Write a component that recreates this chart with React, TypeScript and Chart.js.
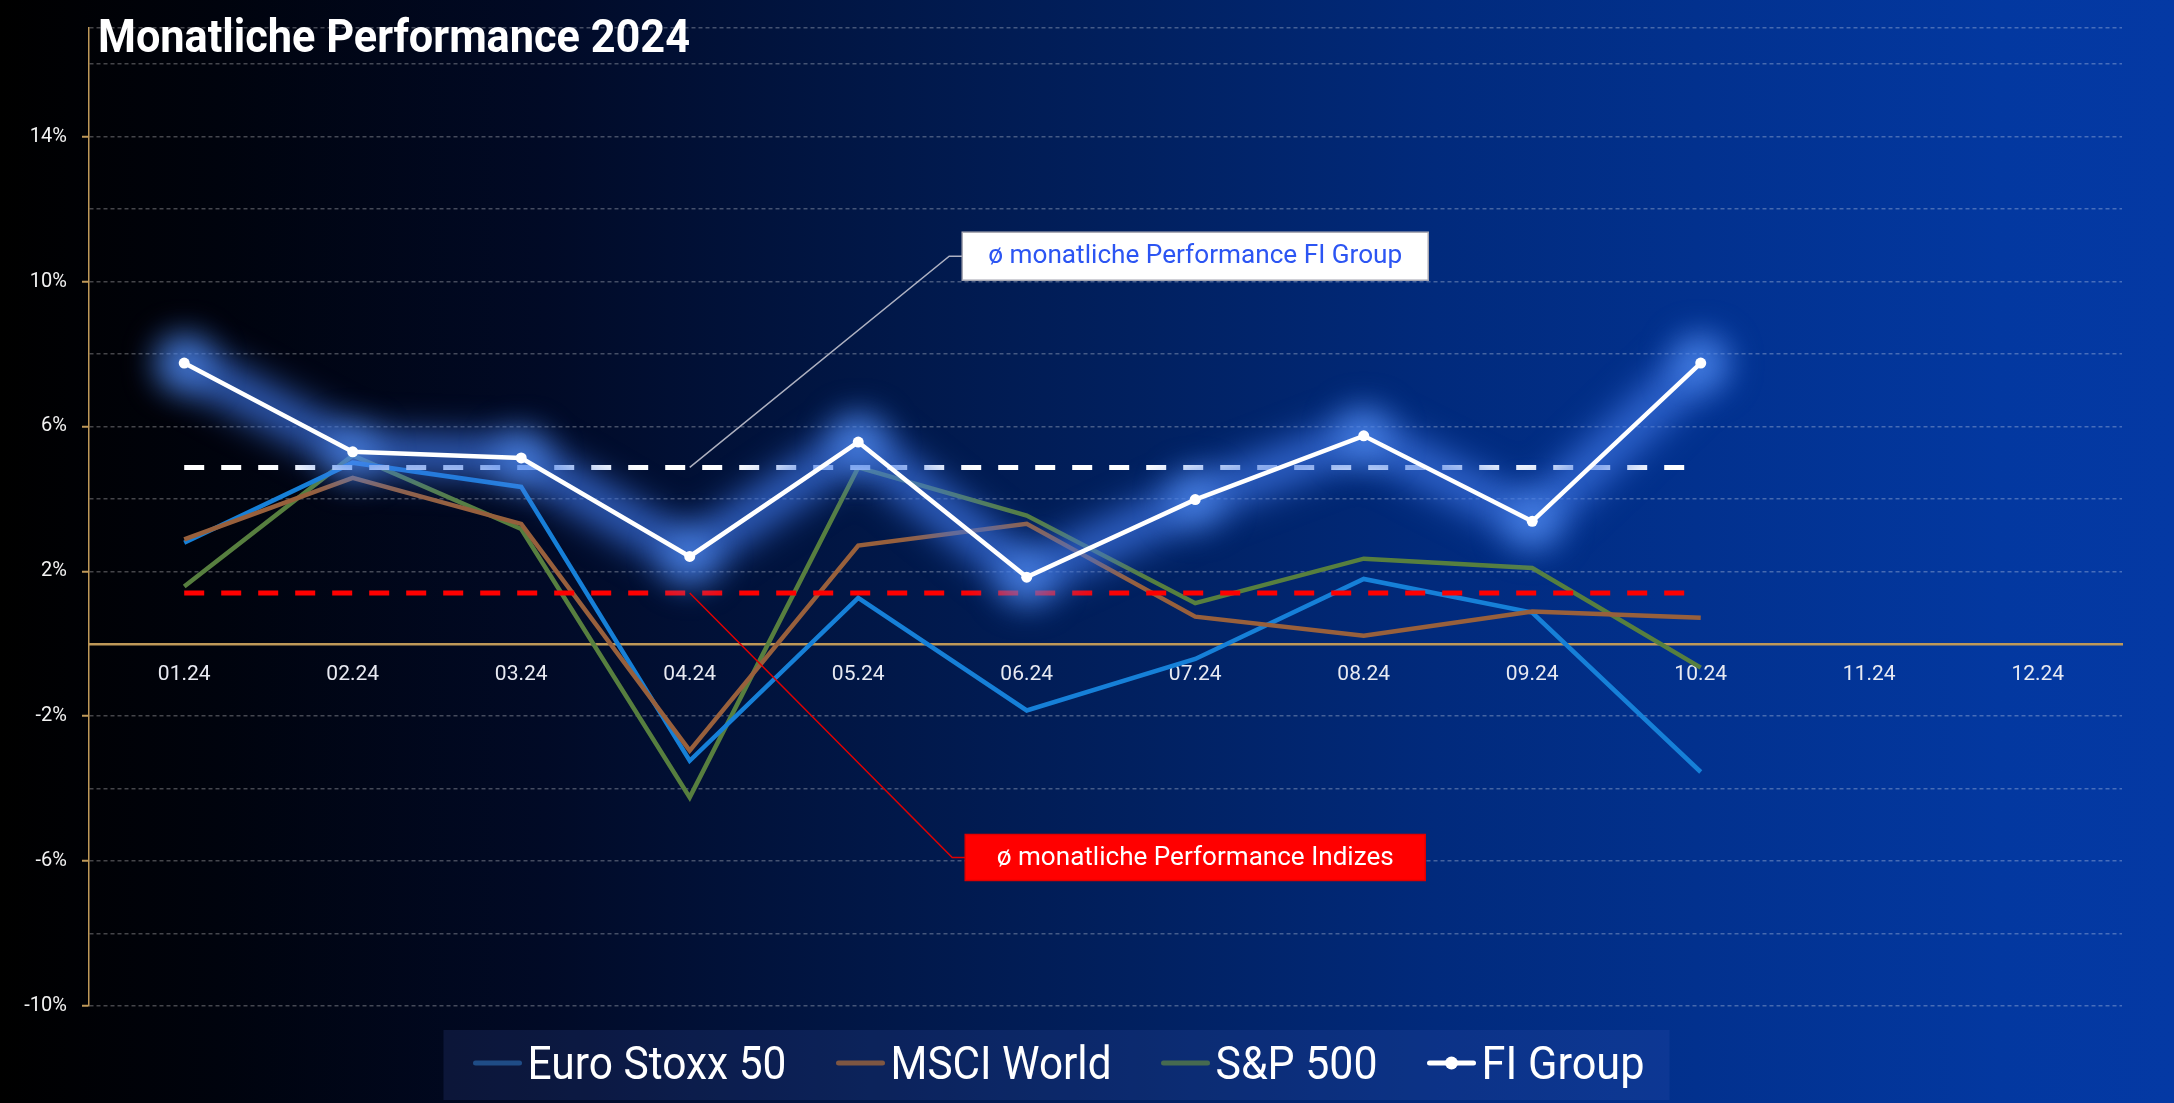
import React, { useEffect, useRef } from 'react';
import { Chart, registerables } from 'chart.js';

Chart.register(...registerables);

// ---------- data ----------
const months = ['01.24', '02.24', '03.24', '04.24', '05.24', '06.24', '07.24', '08.24', '09.24', '10.24', '11.24', '12.24'];
const euroStoxx50 = [2.79, 5.0, 4.33, -3.23, 1.27, -1.84, -0.42, 1.79, 0.86, -3.54];
const msciWorld = [2.88, 4.58, 3.31, -2.95, 2.71, 3.31, 0.75, 0.22, 0.89, 0.72];
const sp500 = [1.58, 5.2, 3.17, -4.24, 4.87, 3.54, 1.12, 2.35, 2.09, -0.66];
const fiGroup = [7.75, 5.3, 5.13, 2.41, 5.57, 1.84, 3.98, 5.74, 3.38, 7.75];
const fiGroupAverage = [4.87, 4.87, 4.87, 4.87, 4.87, 4.87, 4.87, 4.87, 4.87, 4.87];
const indicesAverage = [1.4, 1.4, 1.4, 1.4, 1.4, 1.4, 1.4, 1.4, 1.4, 1.4];
const yLabeledTicks = [14, 10, 6, 2, -2, -6, -10];
const seriesNames = ['Euro Stoxx 50', 'MSCI World', 'S&P 500', 'FI Group'];
const titleText = 'Monatliche Performance 2024';
const fiNoteText = 'ø monatliche Performance FI Group';
const indexNoteText = 'ø monatliche Performance Indizes';
// annotation anchors (category index / value)
const noteAnchorIndex = 3;
const noteBoxIndex = 6;
const fiNoteValue = 10.7;
const indexNoteValue = -5.9;

// ---------- styles ----------
const GOLD = 'rgb(190,152,88)';
const BLUE = '#1680d8';
const BROWN = '#98603c';
const GREEN = '#577f3f';
const LEGEND_COLORS = ['#1f4c86', '#7e5642', '#466a50', '#ffffff'];
const LEGEND_TEXT_WIDTHS = [259, 221, 162, 163];
const FONT = 'Roboto';

const toPoints = (arr: number[]) => arr.map((y, x) => ({ x, y }));

const glowPlugin = {
  id: 'glowPlugin',
  beforeDatasetDraw(chart: any, args: any) {
    const ds = chart.data.datasets[args.index];
    if (ds.glow) {
      chart.ctx.save();
      chart.ctx.filter = `blur(${ds.glow}px)`;
    }
  },
  afterDatasetDraw(chart: any, args: any) {
    const ds = chart.data.datasets[args.index];
    if (ds.glow) chart.ctx.restore();
  },
};

function fitText(ctx: CanvasRenderingContext2D, text: string, x: number, y: number, target: number) {
  const w = ctx.measureText(text).width;
  const s = target / w;
  ctx.save();
  ctx.translate(x, y);
  ctx.scale(s, 1);
  ctx.textAlign = 'left';
  ctx.fillText(text, 0, 0);
  ctx.restore();
}

const decorPlugin = {
  id: 'decorPlugin',
  afterDraw(chart: any) {
    const ctx: CanvasRenderingContext2D = chart.ctx;
    const xs = chart.scales.x;
    const ys = chart.scales.y;

    // title
    ctx.save();
    ctx.fillStyle = '#ffffff';
    ctx.font = `bold 47px ${FONT}`;
    ctx.textBaseline = 'alphabetic';
    fitText(ctx, titleText, 98, 52, 592);
    ctx.restore();

    // notes
    const notes = [
      { text: fiNoteText, value: fiNoteValue, anchor: fiGroupAverage[noteAnchorIndex], bg: '#ffffff', fg: '#2c55f3', line: 'rgba(205,205,215,0.85)', border: 'rgba(170,170,180,1)', tw: 414, bw: 466, bh: 48 },
      { text: indexNoteText, value: indexNoteValue, anchor: indicesAverage[noteAnchorIndex], bg: '#ff0000', fg: '#ffffff', line: '#e00000', border: '#e00000', tw: 397, bw: 460, bh: 46 },
    ];
    notes.forEach((n) => {
      const cx = xs.getPixelForValue(noteBoxIndex);
      const cy = ys.getPixelForValue(n.value);
      const ax = xs.getPixelForValue(noteAnchorIndex);
      const ay = ys.getPixelForValue(n.anchor);
      const left = cx - n.bw / 2;
      ctx.save();
      ctx.strokeStyle = n.line;
      ctx.lineWidth = 1.5;
      ctx.beginPath();
      ctx.moveTo(ax, ay);
      ctx.lineTo(left - 13, cy);
      ctx.lineTo(left, cy);
      ctx.stroke();
      ctx.fillStyle = n.bg;
      ctx.fillRect(left, cy - n.bh / 2, n.bw, n.bh);
      ctx.strokeStyle = n.border;
      ctx.lineWidth = 1.5;
      ctx.strokeRect(left, cy - n.bh / 2, n.bw, n.bh);
      ctx.fillStyle = n.fg;
      ctx.font = `25px ${FONT}`;
      ctx.textBaseline = 'middle';
      fitText(ctx, n.text, cx - n.tw / 2, cy + 1, n.tw);
      ctx.restore();
    });

    // legend
    ctx.save();
    ctx.font = `46px ${FONT}`;
    const widths = LEGEND_TEXT_WIDTHS;
    const sw = 48;
    const gapText = 6;
    const gapItem = 50;
    const total = widths.reduce((a, w) => a + sw + gapText + w, 0) + gapItem * (seriesNames.length - 1);
    const centerX = 1059;
    const cyL = 1063;
    let x = centerX - total / 2;
    ctx.fillStyle = 'rgba(70,95,190,0.17)';
    ctx.fillRect(x - 30, 1030, total + 55, 70);
    seriesNames.forEach((name, i) => {
      ctx.strokeStyle = LEGEND_COLORS[i];
      ctx.lineWidth = 5;
      ctx.lineCap = 'round';
      ctx.beginPath();
      ctx.moveTo(x + 2, cyL);
      ctx.lineTo(x + sw - 2, cyL);
      ctx.stroke();
      if (i === 3) {
        ctx.fillStyle = '#ffffff';
        ctx.beginPath();
        ctx.arc(x + sw / 2, cyL, 6.5, 0, Math.PI * 2);
        ctx.fill();
      }
      ctx.fillStyle = '#ffffff';
      ctx.textBaseline = 'alphabetic';
      fitText(ctx, name, x + sw + gapText, cyL + 16, widths[i]);
      x += sw + gapText + widths[i] + gapItem;
    });
    ctx.restore();
  },
};

export default function App() {
  const canvasRef = useRef<HTMLCanvasElement | null>(null);

  useEffect(() => {
    document.body.style.margin = '0';
    const canvas = canvasRef.current;
    if (!canvas) return;
    const chart = new Chart(canvas, {
      type: 'line',
      data: {
        datasets: [
          { label: seriesNames[0], data: toPoints(euroStoxx50), borderColor: BLUE, backgroundColor: BLUE, borderWidth: 4.5, pointRadius: 0, tension: 0, order: 5 } as any,
          { label: seriesNames[1], data: toPoints(msciWorld), borderColor: BROWN, backgroundColor: BROWN, borderWidth: 4.5, pointRadius: 0, tension: 0, order: 4 } as any,
          { label: seriesNames[2], data: toPoints(sp500), borderColor: GREEN, backgroundColor: GREEN, borderWidth: 4.5, pointRadius: 0, tension: 0, order: 6 } as any,
          { label: seriesNames[3], data: toPoints(fiGroup), borderColor: '#ffffff', backgroundColor: '#ffffff', borderWidth: 4.5, pointRadius: 5.5, pointBackgroundColor: '#ffffff', pointBorderWidth: 0, tension: 0, order: 0 } as any,
          { label: 'glow', glow: 17, data: toPoints(fiGroup), borderColor: 'rgba(60,115,225,0.78)', borderWidth: 42, borderJoinStyle: 'round', borderCapStyle: 'round', pointRadius: 27, pointBackgroundColor: 'rgba(85,145,245,0.65)', pointBorderWidth: 0, tension: 0, order: 1 } as any,
          { label: 'ø FI Group', data: toPoints(fiGroupAverage), borderColor: '#ffffff', borderWidth: 5, borderDash: [20, 17], pointRadius: 0, tension: 0, order: 2 } as any,
          { label: 'ø Indizes', data: toPoints(indicesAverage), borderColor: '#ff0000', borderWidth: 5, borderDash: [20, 17], pointRadius: 0, tension: 0, order: 3 } as any,
        ],
      },
      options: {
        responsive: false,
        animation: false,
        layout: { padding: { top: 28, bottom: 97, left: 0, right: 52 } },
        plugins: {
          legend: { display: false },
          tooltip: { enabled: false },
          title: { display: false },
        },
        scales: {
          x: {
            type: 'linear',
            position: { y: 0 } as any,
            min: -0.565,
            max: 11.5,
            bounds: 'data',
            afterBuildTicks: (s: any) => {
              s.ticks = months.map((_, i) => ({ value: i }));
            },
            ticks: {
              autoSkip: false,
              maxRotation: 0,
              padding: 18,
              color: '#e8eaf2',
              font: { family: FONT, size: 21 },
              callback: (v: any) => months[Math.round(v)] ?? '',
            },
            grid: { display: false, drawTicks: false },
            border: { display: true, color: GOLD, width: 2.5 },
          } as any,
          y: {
            type: 'linear',
            min: -10,
            max: 17,
            bounds: 'data',
            afterFit: (s: any) => {
              s.width = 89;
            },
            ticks: {
              stepSize: 2,
              includeBounds: false,
              autoSkip: false,
              padding: 15,
              color: '#f2f2f2',
              font: { family: FONT, size: 20 },
              callback: (v: any) => (yLabeledTicks.includes(v) ? `${v}%` : ''),
            },
            grid: {
              color: (c: any) => (c.tick && c.tick.value === 0 ? 'rgba(0,0,0,0)' : 'rgba(255,255,255,0.27)'),
              lineWidth: 1.5,
              tickLength: 7,
              tickWidth: 2,
              tickBorderDash: [],
              tickColor: (c: any) => (c.tick && yLabeledTicks.includes(c.tick.value) ? GOLD : 'rgba(0,0,0,0)'),
            },
            border: { display: true, color: GOLD, width: 1.5, dash: [4, 3] },
          } as any,
        },
      },
      plugins: [glowPlugin, decorPlugin],
    });
    return () => chart.destroy();
  }, []);

  return (
    <div
      style={{
        width: 2174,
        height: 1103,
        position: 'relative',
        overflow: 'hidden',
        background:
          'linear-gradient(90deg, #000000 0%, #00030d 10%, #010a26 25%, #011747 40%, #01205f 52%, #012a7c 66%, #02318e 78%, #0338a0 92%, #0439a4 100%)',
      }}
    >
      <canvas ref={canvasRef} width={2174} height={1103} style={{ display: 'block' }} />
    </div>
  );
}
